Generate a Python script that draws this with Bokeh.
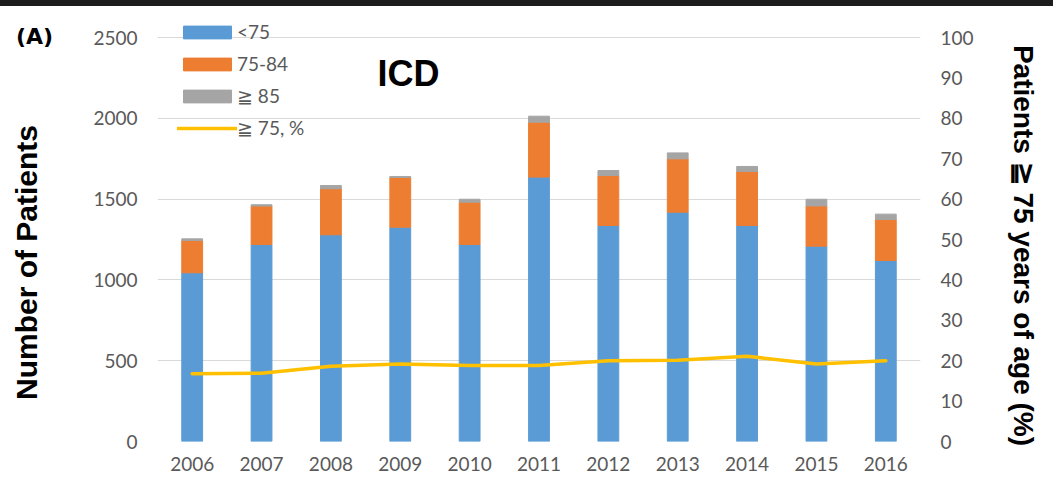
import math

from bokeh.embed import file_html
from bokeh.layouts import column
from bokeh.models import ColumnDataSource, Div, FixedTicker, Label, LinearAxis, Range1d
from bokeh.plotting import figure
from bokeh.resources import INLINE

# ICD implantations by age group per year
years = [2006, 2007, 2008, 2009, 2010, 2011, 2012, 2013, 2014, 2015, 2016]
under_75 = [1044, 1219, 1279, 1326, 1219, 1636, 1337, 1419, 1337, 1209, 1120]
age_75_84 = [200, 238, 285, 308, 262, 340, 309, 330, 334, 249, 254]
age_85_plus = [10, 8, 20, 6, 18, 37, 31, 37, 31, 41, 33]
# share of patients aged 75 or older (%)
pct_75_plus = [16.8, 16.9, 18.6, 19.2, 18.8, 18.8, 20.0, 20.1, 21.1, 19.2, 20.0]

left_ticks = [0, 500, 1000, 1500, 2000, 2500]
right_ticks = [0, 10, 20, 30, 40, 50, 60, 70, 80, 90, 100]

series_labels = ["<75", "75-84", "≧ 85"]
line_label = "≧ 75, %"
series_colors = ["#5B9BD5", "#ED7D31", "#A5A5A5"]
line_color = "#FFC000"

TICK_FONT = "Lato"
TICK_COLOR = "#595959"

# a little headroom above the top tick so the legend fits inside the frame
HEADROOM = 426 / 404
left_max = 2500
right_max = 100

source = ColumnDataSource(dict(year=years, u75=under_75, a7584=age_75_84, a85=age_85_plus))

p = figure(
    width=1053, height=485,
    x_range=Range1d(2005.5, 2016.5), y_range=Range1d(0, left_max * HEADROOM),
    output_backend="svg", toolbar_location=None,
    min_border_left=157, min_border_right=133, min_border_top=9, min_border_bottom=50,
)
p.outline_line_color = None
p.background_fill_color = "white"
p.border_fill_color = "white"
p.extra_y_ranges = {"pct": Range1d(0, right_max * HEADROOM)}

p.vbar_stack(["u75", "a7584", "a85"], x="year", width=0.3, color=series_colors,
             source=source, legend_label=series_labels)
p.line(years, pct_75_plus, y_range_name="pct", line_color=line_color, line_width=3.5,
       line_join="round", line_cap="round", legend_label=line_label)

# grid
p.xgrid.grid_line_color = None
p.ygrid.grid_line_color = "#D9D9D9"
p.ygrid.grid_line_width = 1

# left axis
p.yaxis.ticker = FixedTicker(ticks=left_ticks)
ax_left = p.yaxis[0]

# bottom axis
p.xaxis.ticker = FixedTicker(ticks=years)
p.xaxis.major_label_overrides = {y: str(y) for y in years}

# right axis
ax_right = LinearAxis(y_range_name="pct", ticker=FixedTicker(ticks=right_ticks))
p.add_layout(ax_right, "right")

for ax in [ax_left, ax_right, p.xaxis[0]]:
    ax.axis_line_color = None
    ax.major_tick_line_color = None
    ax.minor_tick_line_color = None
    ax.major_tick_out = 0
    ax.major_tick_in = 0
    ax.minor_tick_out = 0
    ax.major_label_text_font = TICK_FONT
    ax.major_label_text_font_size = "19px"
    ax.major_label_text_color = TICK_COLOR
    ax.major_label_standoff = 20
p.xaxis.major_label_standoff = 15

# legend
leg = p.legend[0]
leg.location = (20, 302)
leg.padding = 0
leg.margin = 0
leg.spacing = 9
leg.glyph_width = 60
leg.glyph_height = 16
leg.label_height = 20
leg.label_standoff = 0
leg.background_fill_alpha = 0
leg.border_line_color = None
leg.label_text_font = TICK_FONT
leg.label_text_font_size = "19px"
leg.label_text_color = TICK_COLOR

# texts
p.add_layout(Label(x=-31, y=179, x_units="screen", y_units="screen",
                   text="Number of Patients", angle=math.pi / 2,
                   text_align="center", text_baseline="middle",
                   text_font="Liberation Sans", text_font_style="bold",
                   text_font_size="30px", text_color="black"), "left")
p.add_layout(Label(x=47, y=196, x_units="screen", y_units="screen",
                   text="Patients ≧ 75 years of age (%)", angle=-math.pi / 2,
                   text_align="center", text_baseline="middle",
                   text_font="Liberation Sans", text_font_style="bold",
                   text_font_size="28px", text_color="black"), "right")
p.add_layout(Label(x=14, y=405, x_units="screen", y_units="screen",
                   text="(A)", text_align="center", text_baseline="middle",
                   text_font="DejaVu Sans", text_font_style="bold",
                   text_font_size="22px", text_color="black"), "left")
p.add_layout(Label(x=251, y=368, x_units="screen", y_units="screen",
                   text="ICD", text_align="center", text_baseline="middle",
                   text_font="Liberation Sans", text_font_style="bold",
                   text_font_size="36px", text_color="black"))

band = Div(width=1053, height=6, margin=0, styles={"background-color": "#1c1c1c"})

layout = column(band, p, spacing=0)
open("out.html", "w").write(file_html(layout, INLINE))
